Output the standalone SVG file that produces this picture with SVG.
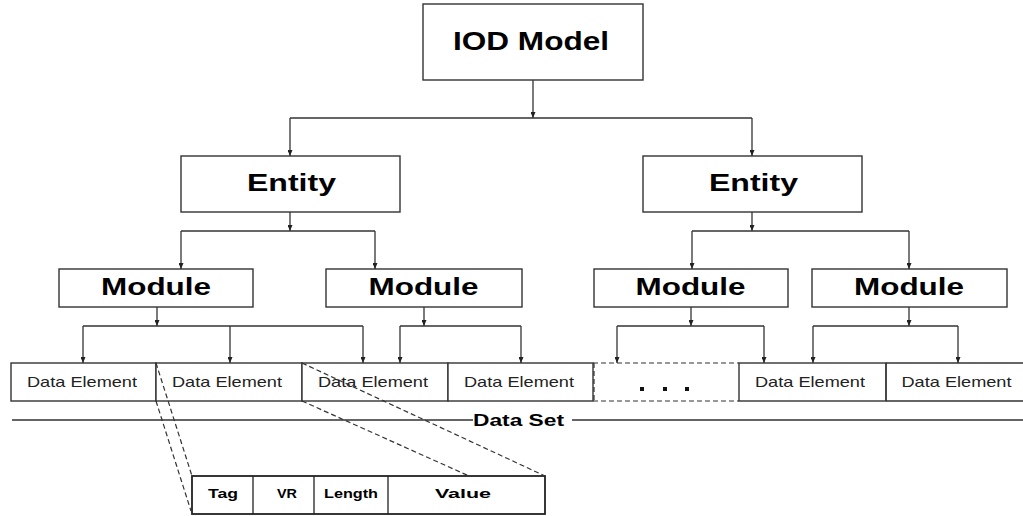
<svg xmlns="http://www.w3.org/2000/svg" width="1023" height="516" viewBox="0 0 1023 516">
<style>
.box{fill:#fff;stroke:#333;stroke-width:1.4}
.ln{fill:none;stroke:#333;stroke-width:1.3}
.arr{fill:none;stroke:#333;stroke-width:1.3;marker-end:url(#ah)}
.dash{fill:none;stroke:#333;stroke-width:1.2;stroke-dasharray:5 3}
.b{font-family:"Liberation Sans",Arial,sans-serif;font-weight:bold;fill:#000;text-anchor:middle}
.r{font-family:"Liberation Sans",Arial,sans-serif;fill:#222;text-anchor:middle;font-size:15px}
</style>
<defs>
<marker id="ah" viewBox="0 0 6 5" refX="6" refY="2.5" markerWidth="6" markerHeight="5" markerUnits="userSpaceOnUse" orient="auto">
<path d="M0,0 L6,2.5 L0,5 Z" fill="#222"/>
</marker>
</defs>
<g id="iod-model">
<rect class="box" x="423" y="4" width="220" height="76"/>
<text class="b" x="531" y="50" font-size="25" textLength="156" lengthAdjust="spacingAndGlyphs">IOD Model</text>
</g>
<g id="entity-1">
<rect class="box" x="181" y="156" width="219" height="56"/>
<text class="b" x="291.5" y="191" font-size="23" textLength="89" lengthAdjust="spacingAndGlyphs">Entity</text>
</g>
<g id="entity-2">
<rect class="box" x="643" y="156" width="219" height="56"/>
<text class="b" x="753.5" y="191" font-size="23" textLength="89" lengthAdjust="spacingAndGlyphs">Entity</text>
</g>
<g id="module-1">
<rect class="box" x="59" y="269" width="194" height="38"/>
<text class="b" x="156" y="295" font-size="24" textLength="110" lengthAdjust="spacingAndGlyphs">Module</text>
</g>
<g id="module-2">
<rect class="box" x="326" y="269" width="196" height="38"/>
<text class="b" x="423.5" y="295" font-size="24" textLength="110" lengthAdjust="spacingAndGlyphs">Module</text>
</g>
<g id="module-3">
<rect class="box" x="594" y="269" width="194" height="38"/>
<text class="b" x="690.5" y="295" font-size="24" textLength="110" lengthAdjust="spacingAndGlyphs">Module</text>
</g>
<g id="module-4">
<rect class="box" x="812" y="269" width="195" height="38"/>
<text class="b" x="909" y="295" font-size="24" textLength="110" lengthAdjust="spacingAndGlyphs">Module</text>
</g>
<g id="data-element-1">
<rect class="box" x="11" y="363" width="145" height="38"/>
<text class="r" x="82" y="387" textLength="110" lengthAdjust="spacingAndGlyphs">Data Element</text>
</g>
<g id="data-element-2">
<rect class="box" x="156" y="363" width="146" height="38"/>
<text class="r" x="227" y="387" textLength="110" lengthAdjust="spacingAndGlyphs">Data Element</text>
</g>
<g id="data-element-3">
<rect class="box" x="302" y="363" width="146" height="38"/>
<text class="r" x="373" y="387" textLength="110" lengthAdjust="spacingAndGlyphs">Data Element</text>
</g>
<g id="data-element-4">
<rect class="box" x="448" y="363" width="145" height="38"/>
<text class="r" x="519" y="387" textLength="110" lengthAdjust="spacingAndGlyphs">Data Element</text>
</g>
<g id="ellipsis">
<path class="dash" d="M593,363 H739 M593,401 H739 M594,363 V401"/>
<rect x="640" y="387" width="4" height="4" fill="#111"/>
<rect x="663" y="387" width="4" height="4" fill="#111"/>
<rect x="685" y="387" width="4" height="4" fill="#111"/>
</g>
<g id="data-element-5">
<rect class="box" x="739" y="363" width="147" height="38"/>
<text class="r" x="810" y="387" textLength="110" lengthAdjust="spacingAndGlyphs">Data Element</text>
</g>
<g id="data-element-6">
<path class="ln" d="M886,363 H1023 M886,401 H1023 M886,363 V401"/>
<text class="r" x="956.5" y="387" textLength="110" lengthAdjust="spacingAndGlyphs">Data Element</text>
</g>
<g id="data-set">
<path class="ln" d="M12,420 H473 M572,420 H1023"/>
<text class="b" x="518.5" y="426" font-size="17" textLength="91" lengthAdjust="spacingAndGlyphs">Data Set</text>
</g>
<g id="data-element-detail">
<rect x="192" y="476" width="353" height="38" fill="#fff" stroke="#222" stroke-width="1.8"/>
<path d="M253,476 V514 M314,476 V514 M388,476 V514" stroke="#222" stroke-width="1.3"/>
<text class="b" x="223" y="498" font-size="12.5" textLength="30" lengthAdjust="spacingAndGlyphs">Tag</text>
<text class="b" x="287" y="498" font-size="12.5" textLength="20" lengthAdjust="spacingAndGlyphs">VR</text>
<text class="b" x="351" y="498" font-size="12.5" textLength="54" lengthAdjust="spacingAndGlyphs">Length</text>
<text class="b" x="463" y="498" font-size="12.5" textLength="56" lengthAdjust="spacingAndGlyphs">Value</text>
</g>
<g id="connectors">
<path class="arr" d="M533,80 V118"/>
<path class="ln" d="M290,118 H752"/>
<path class="arr" d="M290,118 V156"/>
<path class="arr" d="M752,118 V156"/>
<path class="arr" d="M290,212 V231"/>
<path class="ln" d="M181,231 H375"/>
<path class="arr" d="M181,231 V269"/>
<path class="arr" d="M375,231 V269"/>
<path class="arr" d="M752,212 V231"/>
<path class="ln" d="M692,231 H909"/>
<path class="arr" d="M692,231 V269"/>
<path class="arr" d="M909,231 V269"/>
<path class="arr" d="M157,307 V326"/>
<path class="ln" d="M83,326 H363"/>
<path class="arr" d="M83,326 V363"/>
<path class="arr" d="M230,326 V363"/>
<path class="arr" d="M363,326 V363"/>
<path class="arr" d="M424,307 V326"/>
<path class="ln" d="M400,326 H521"/>
<path class="arr" d="M400,326 V363"/>
<path class="arr" d="M521,326 V363"/>
<path class="arr" d="M691,307 V326"/>
<path class="ln" d="M617,326 H764"/>
<path class="arr" d="M617,326 V363"/>
<path class="arr" d="M764,326 V363"/>
<path class="arr" d="M909,307 V326"/>
<path class="ln" d="M813,326 H958"/>
<path class="arr" d="M813,326 V363"/>
<path class="arr" d="M958,326 V363"/>
<path class="dash" d="M156,363 L192,476"/>
<path class="dash" d="M156,401 L191,511"/>
<path class="dash" d="M302,363 L545,476"/>
<path class="dash" d="M302,401 L469,476"/>
</g>
</svg>
